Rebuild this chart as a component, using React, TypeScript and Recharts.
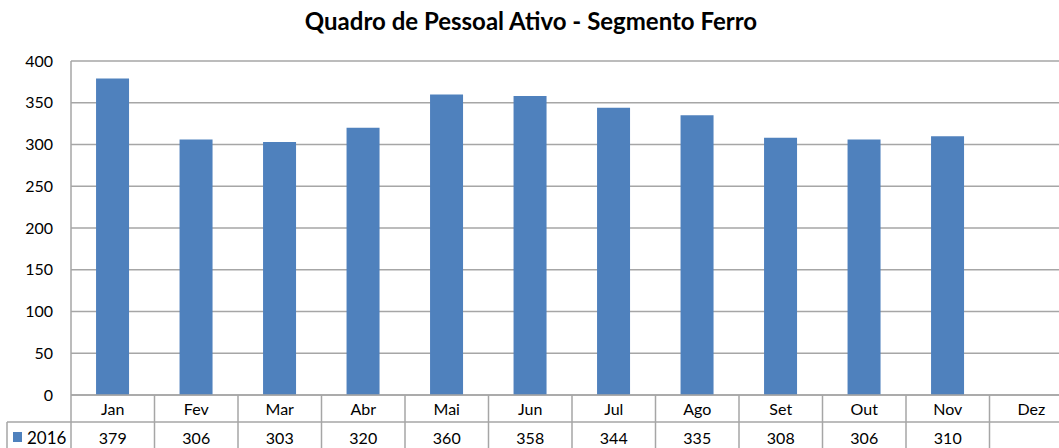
import React from "react";
import { BarChart, Bar, XAxis, YAxis, CartesianGrid } from "recharts";

const months = ["Jan", "Fev", "Mar", "Abr", "Mai", "Jun", "Jul", "Ago", "Set", "Out", "Nov", "Dez"];
const values2016: (number | null)[] = [379, 306, 303, 320, 360, 358, 344, 335, 308, 306, 310, null];
const yTicks = [0, 50, 100, 150, 200, 250, 300, 350, 400];
const seriesName = "2016";
const title = "Quadro de Pessoal Ativo - Segmento Ferro";

const data = months.map((m, i) => ({ month: m, v: values2016[i] }));

const FONT = "Lato, 'Open Sans', sans-serif";
const GRID = "#a6a6a6";
const BAR = "#4f81bd";
const CHART_W = 1080;
const PLOT_L = 71;
const PLOT_R = 1073;
const PLOT_B = 395;
const BAND = (PLOT_R - PLOT_L) / months.length;

const TableTick = (props: any) => {
  const { x, payload, index } = props;
  const val = values2016[index];
  const left = x - BAND / 2;
  const right = x + BAND / 2;
  return (
    <g>
      {index === 0 && (
        <g>
          <line x1={7} y1={422} x2={PLOT_R} y2={422} stroke={GRID} strokeWidth={1.5} />
          <line x1={7} y1={422} x2={7} y2={448} stroke={GRID} strokeWidth={1.5} />
          <line x1={left} y1={PLOT_B} x2={left} y2={448} stroke={GRID} strokeWidth={1.5} />
          <rect x={13} y={432} width={9} height={10} fill={BAR} />
          <text x={27} y={444} fontSize={17} fontFamily={FONT} fill="#000">
            {seriesName}
          </text>
        </g>
      )}
      <line x1={right} y1={PLOT_B} x2={right} y2={448} stroke={GRID} strokeWidth={1.5} />
      <text x={x} y={415} textAnchor="middle" fontSize={16} fontFamily={FONT} fill="#000">
        {payload.value}
      </text>
      {val != null && (
        <text x={x} y={444} textAnchor="middle" fontSize={16} fontFamily={FONT} fill="#000">
          {val}
        </text>
      )}
    </g>
  );
};

export default function App() {
  return (
    <div
      style={{
        position: "absolute",
        left: 0,
        top: 0,
        width: 1059,
        height: 448,
        overflow: "hidden",
        background: "#fff",
      }}
    >
      <div
        style={{
          position: "absolute",
          left: 0,
          top: 6,
          width: 1062,
          textAlign: "center",
          fontFamily: FONT,
          fontWeight: 700,
          fontSize: 24,
          lineHeight: "29px",
          color: "#000",
          zIndex: 2,
        }}
      >
        {title}
      </div>
      <BarChart
        width={CHART_W}
        height={448}
        data={data}
        margin={{ top: 61, right: CHART_W - PLOT_R, left: 0, bottom: 0 }}
        barCategoryGap="30%"
      >
        <CartesianGrid vertical={false} stroke={GRID} strokeWidth={1.5} />
        <YAxis
          width={PLOT_L}
          domain={[0, 400]}
          ticks={yTicks}
          interval={0}
          tickLine={false}
          axisLine={{ stroke: GRID, strokeWidth: 1.5 }}
          tick={{ fontSize: 16, fontFamily: FONT, fill: "#000" }}
          tickMargin={12}
        />
        <XAxis
          dataKey="month"
          height={448 - PLOT_B}
          interval={0}
          tickLine={false}
          axisLine={{ stroke: GRID, strokeWidth: 1.5 }}
          tick={<TableTick />}
        />
        <Bar dataKey="v" fill={BAR} isAnimationActive={false} />
      </BarChart>
    </div>
  );
}
